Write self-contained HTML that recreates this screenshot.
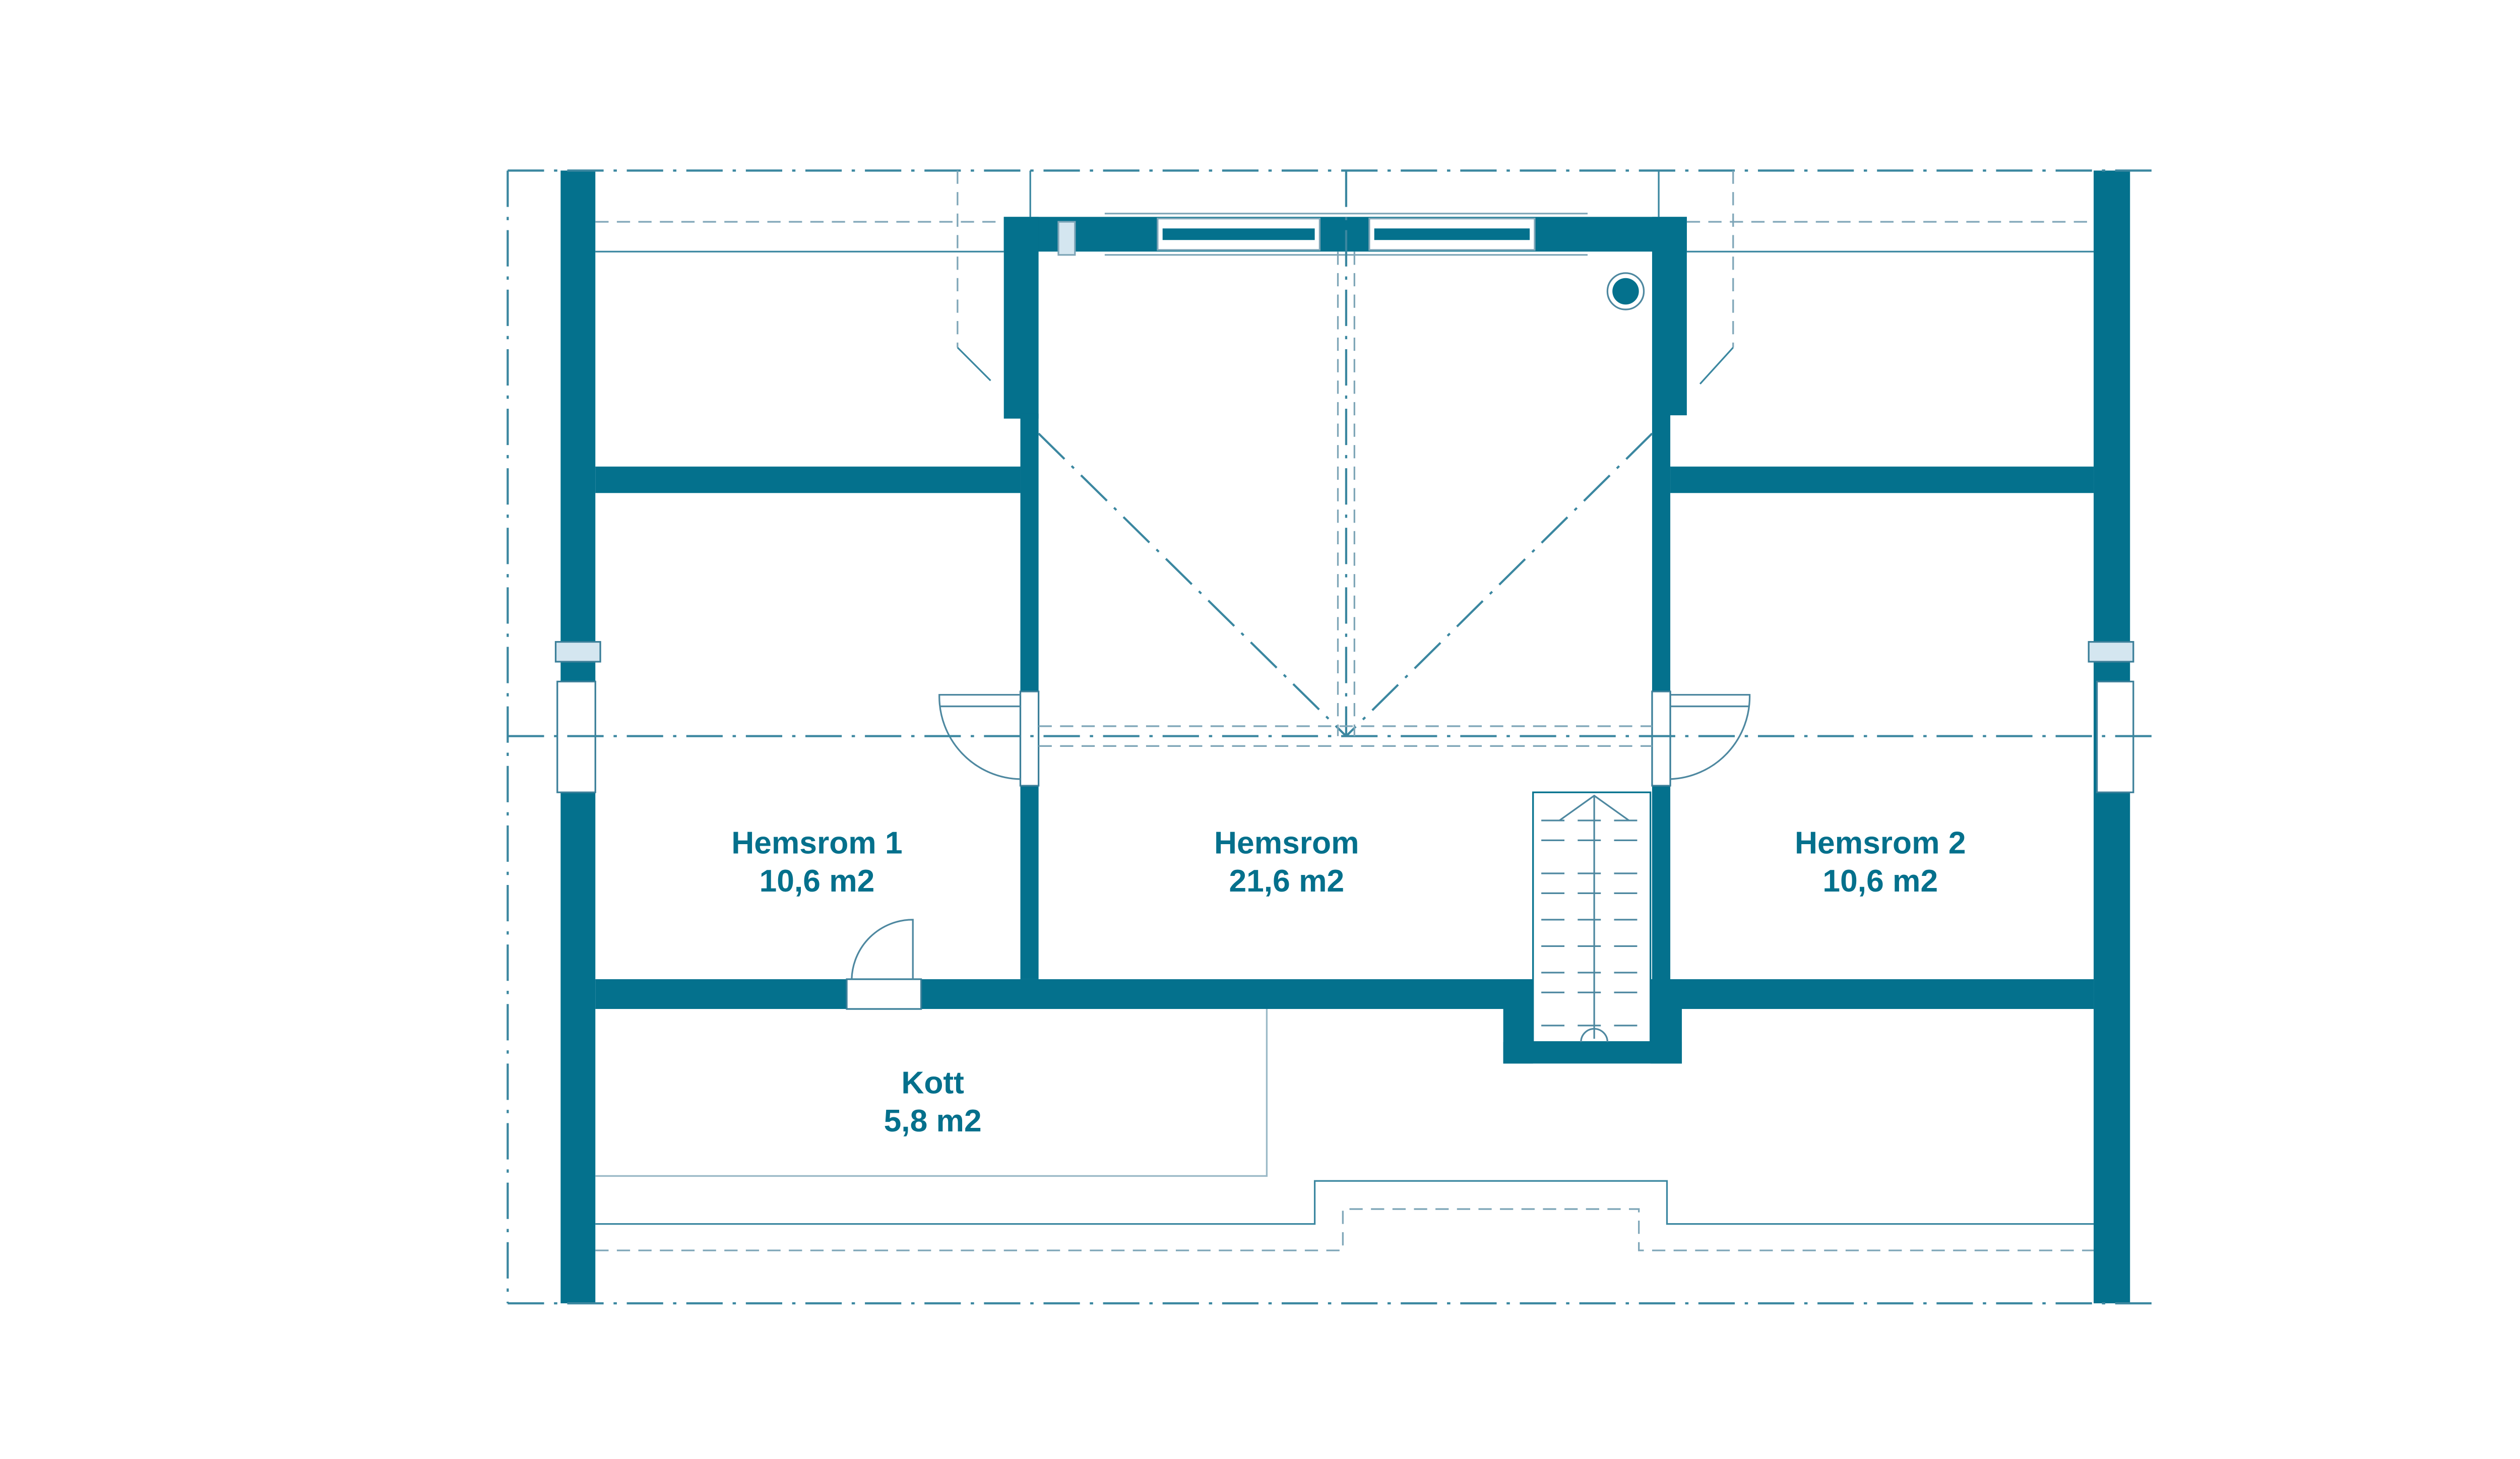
<!DOCTYPE html>
<html><head><meta charset="utf-8"><style>
html,body{margin:0;padding:0;background:#fff;}
svg{display:block;}
text{font-family:"Liberation Sans",sans-serif;font-weight:bold;fill:#04708c;text-anchor:middle;}
</style></head><body>
<svg width="5145" height="2895" viewBox="0 0 1568 882" xmlns="http://www.w3.org/2000/svg">
<g fill="#04718d" stroke="none">
<!-- outer walls -->
<rect x="339" y="103" width="21" height="685"/>
<rect x="1266" y="103" width="22" height="685"/>
<!-- central box -->
<rect x="607" y="131" width="413" height="21"/>
<rect x="607" y="131" width="21" height="122"/>
<rect x="617" y="250" width="11" height="342"/>
<rect x="999" y="131" width="21" height="120"/>
<rect x="999" y="248" width="11" height="352"/>
<!-- horizontal walls -->
<rect x="360" y="282" width="257" height="16"/>
<rect x="1010" y="282" width="256" height="16"/>
<rect x="360" y="592" width="152" height="18"/>
<rect x="557" y="592" width="370" height="18"/>
<rect x="998" y="592" width="268" height="18"/>
<!-- stair enclosure -->
<rect x="909" y="592" width="18" height="51"/>
<rect x="998" y="592" width="19" height="51"/>
<rect x="909" y="630" width="108" height="13"/>
</g>
<!-- windows in top wall -->
<g fill="#fff" stroke="#7fa6b8" stroke-width="1">
<rect x="700" y="132" width="98" height="19"/>
<rect x="828" y="132" width="100" height="19"/>
</g>
<g fill="#04718d"><rect x="703" y="138" width="92" height="7"/><rect x="831" y="138" width="94" height="7"/></g>
<g stroke="#7fa6b8" fill="none" stroke-width="1">
<line x1="668" y1="129" x2="960" y2="129"/><line x1="668" y1="154" x2="960" y2="154"/>
</g>
<rect x="640" y="134" width="10" height="20" fill="#d4e6f0" stroke="#7fa6b8"/>
<!-- side windows -->
<g fill="#d4e6f0" stroke="#3b7f99" stroke-width="1">
<rect x="336" y="388" width="27" height="12"/>
<rect x="1263" y="388" width="27" height="12"/>
</g>
<g fill="#fff" stroke="#3b7f99" stroke-width="1">
<rect x="337" y="412" width="23" height="67"/>
<rect x="1268" y="412" width="22" height="67"/>
<rect x="617" y="418" width="11" height="57"/>
<rect x="999" y="418" width="11" height="57"/>
<rect x="512" y="592" width="45" height="18"/>
</g>
<!-- doors -->
<g fill="none" stroke="#4e88a0" stroke-width="1">
<path d="M617 420 H568 A50 50 0 0 0 617 471"/>
<line x1="568" y1="427" x2="617" y2="427"/>
<path d="M1010 420 H1058 A50 50 0 0 1 1010 471"/>
<line x1="1010" y1="427" x2="1058" y2="427"/>
<path d="M552 592 V556 A37 37 0 0 0 515 592"/>
</g>
<!-- stair -->
<g fill="none" stroke="#4e88a0" stroke-width="1">
<rect x="927" y="479" width="71" height="151" stroke="#04718d"/>
<polyline points="943,496 964,481 985,496"/>
<line x1="964" y1="481" x2="964" y2="628"/>
<g stroke-dasharray="14,8">
<line x1="932" y1="496" x2="998" y2="496"/><line x1="932" y1="508" x2="998" y2="508"/>
<line x1="932" y1="528" x2="998" y2="528"/><line x1="932" y1="540" x2="998" y2="540"/>
<line x1="932" y1="556" x2="998" y2="556"/><line x1="932" y1="572" x2="998" y2="572"/>
<line x1="932" y1="588" x2="998" y2="588"/><line x1="932" y1="600" x2="998" y2="600"/>
<line x1="932" y1="620" x2="998" y2="620"/>
</g>
<path d="M956 630 A8 8 0 0 1 972 630"/>
</g>
<!-- circle -->
<circle cx="983" cy="176" r="11" fill="#fff" stroke="#4e88a0"/>
<circle cx="983" cy="176" r="8" fill="#04718d"/>
<!-- dash-dot frame -->
<g fill="none" stroke="#3b87a0" stroke-width="1.3" stroke-dasharray="22,6,2,6">
<line x1="307" y1="103" x2="1305" y2="103"/>
<line x1="307" y1="788" x2="1305" y2="788"/>
<line x1="307" y1="103" x2="307" y2="788"/>
<line x1="307" y1="445" x2="1305" y2="445"/>
<line x1="628" y1="262" x2="814" y2="445"/>
<line x1="999" y1="262" x2="814" y2="445"/>
<line x1="814" y1="103" x2="814" y2="445"/>
</g>
<g fill="none" stroke="#7fa6b8" stroke-width="1" stroke-dasharray="8,5">
<line x1="360" y1="134" x2="607" y2="134"/>
<line x1="1020" y1="134" x2="1266" y2="134"/>
<line x1="809" y1="152" x2="809" y2="445"/>
<line x1="819" y1="152" x2="819" y2="445"/>
<line x1="628" y1="439" x2="999" y2="439"/>
<line x1="628" y1="451" x2="999" y2="451"/>
<polyline points="360,756 812,756 812,731 991,731 991,756 1266,756"/>
<line x1="579" y1="103" x2="579" y2="210"/>
<line x1="1048" y1="103" x2="1048" y2="210"/>
</g>
<g fill="none" stroke="#3b87a0" stroke-width="1">
<line x1="360" y1="152" x2="607" y2="152"/>
<line x1="1020" y1="152" x2="1266" y2="152"/>
<line x1="623" y1="103" x2="623" y2="131"/>
<line x1="1003" y1="103" x2="1003" y2="131"/>
<line x1="579" y1="210" x2="599" y2="230"/>
<line x1="1048" y1="210" x2="1028" y2="232"/>
<polyline points="360,740 795,740 795,714 1008,714 1008,740 1266,740"/>
</g>
<g fill="none" stroke="#9bb9c7" stroke-width="1">
<polyline points="766,610 766,711 360,711"/>
</g>
<!-- labels -->
<text x="494" y="516" font-size="19">Hemsrom 1</text>
<text x="494" y="539" font-size="19">10,6 m2</text>
<text x="778" y="516" font-size="19">Hemsrom</text>
<text x="778" y="539" font-size="19">21,6 m2</text>
<text x="1137" y="516" font-size="19">Hemsrom 2</text>
<text x="1137" y="539" font-size="19">10,6 m2</text>
<text x="564" y="661" font-size="19">Kott</text>
<text x="564" y="684" font-size="19">5,8 m2</text>
</svg>
</body></html>
